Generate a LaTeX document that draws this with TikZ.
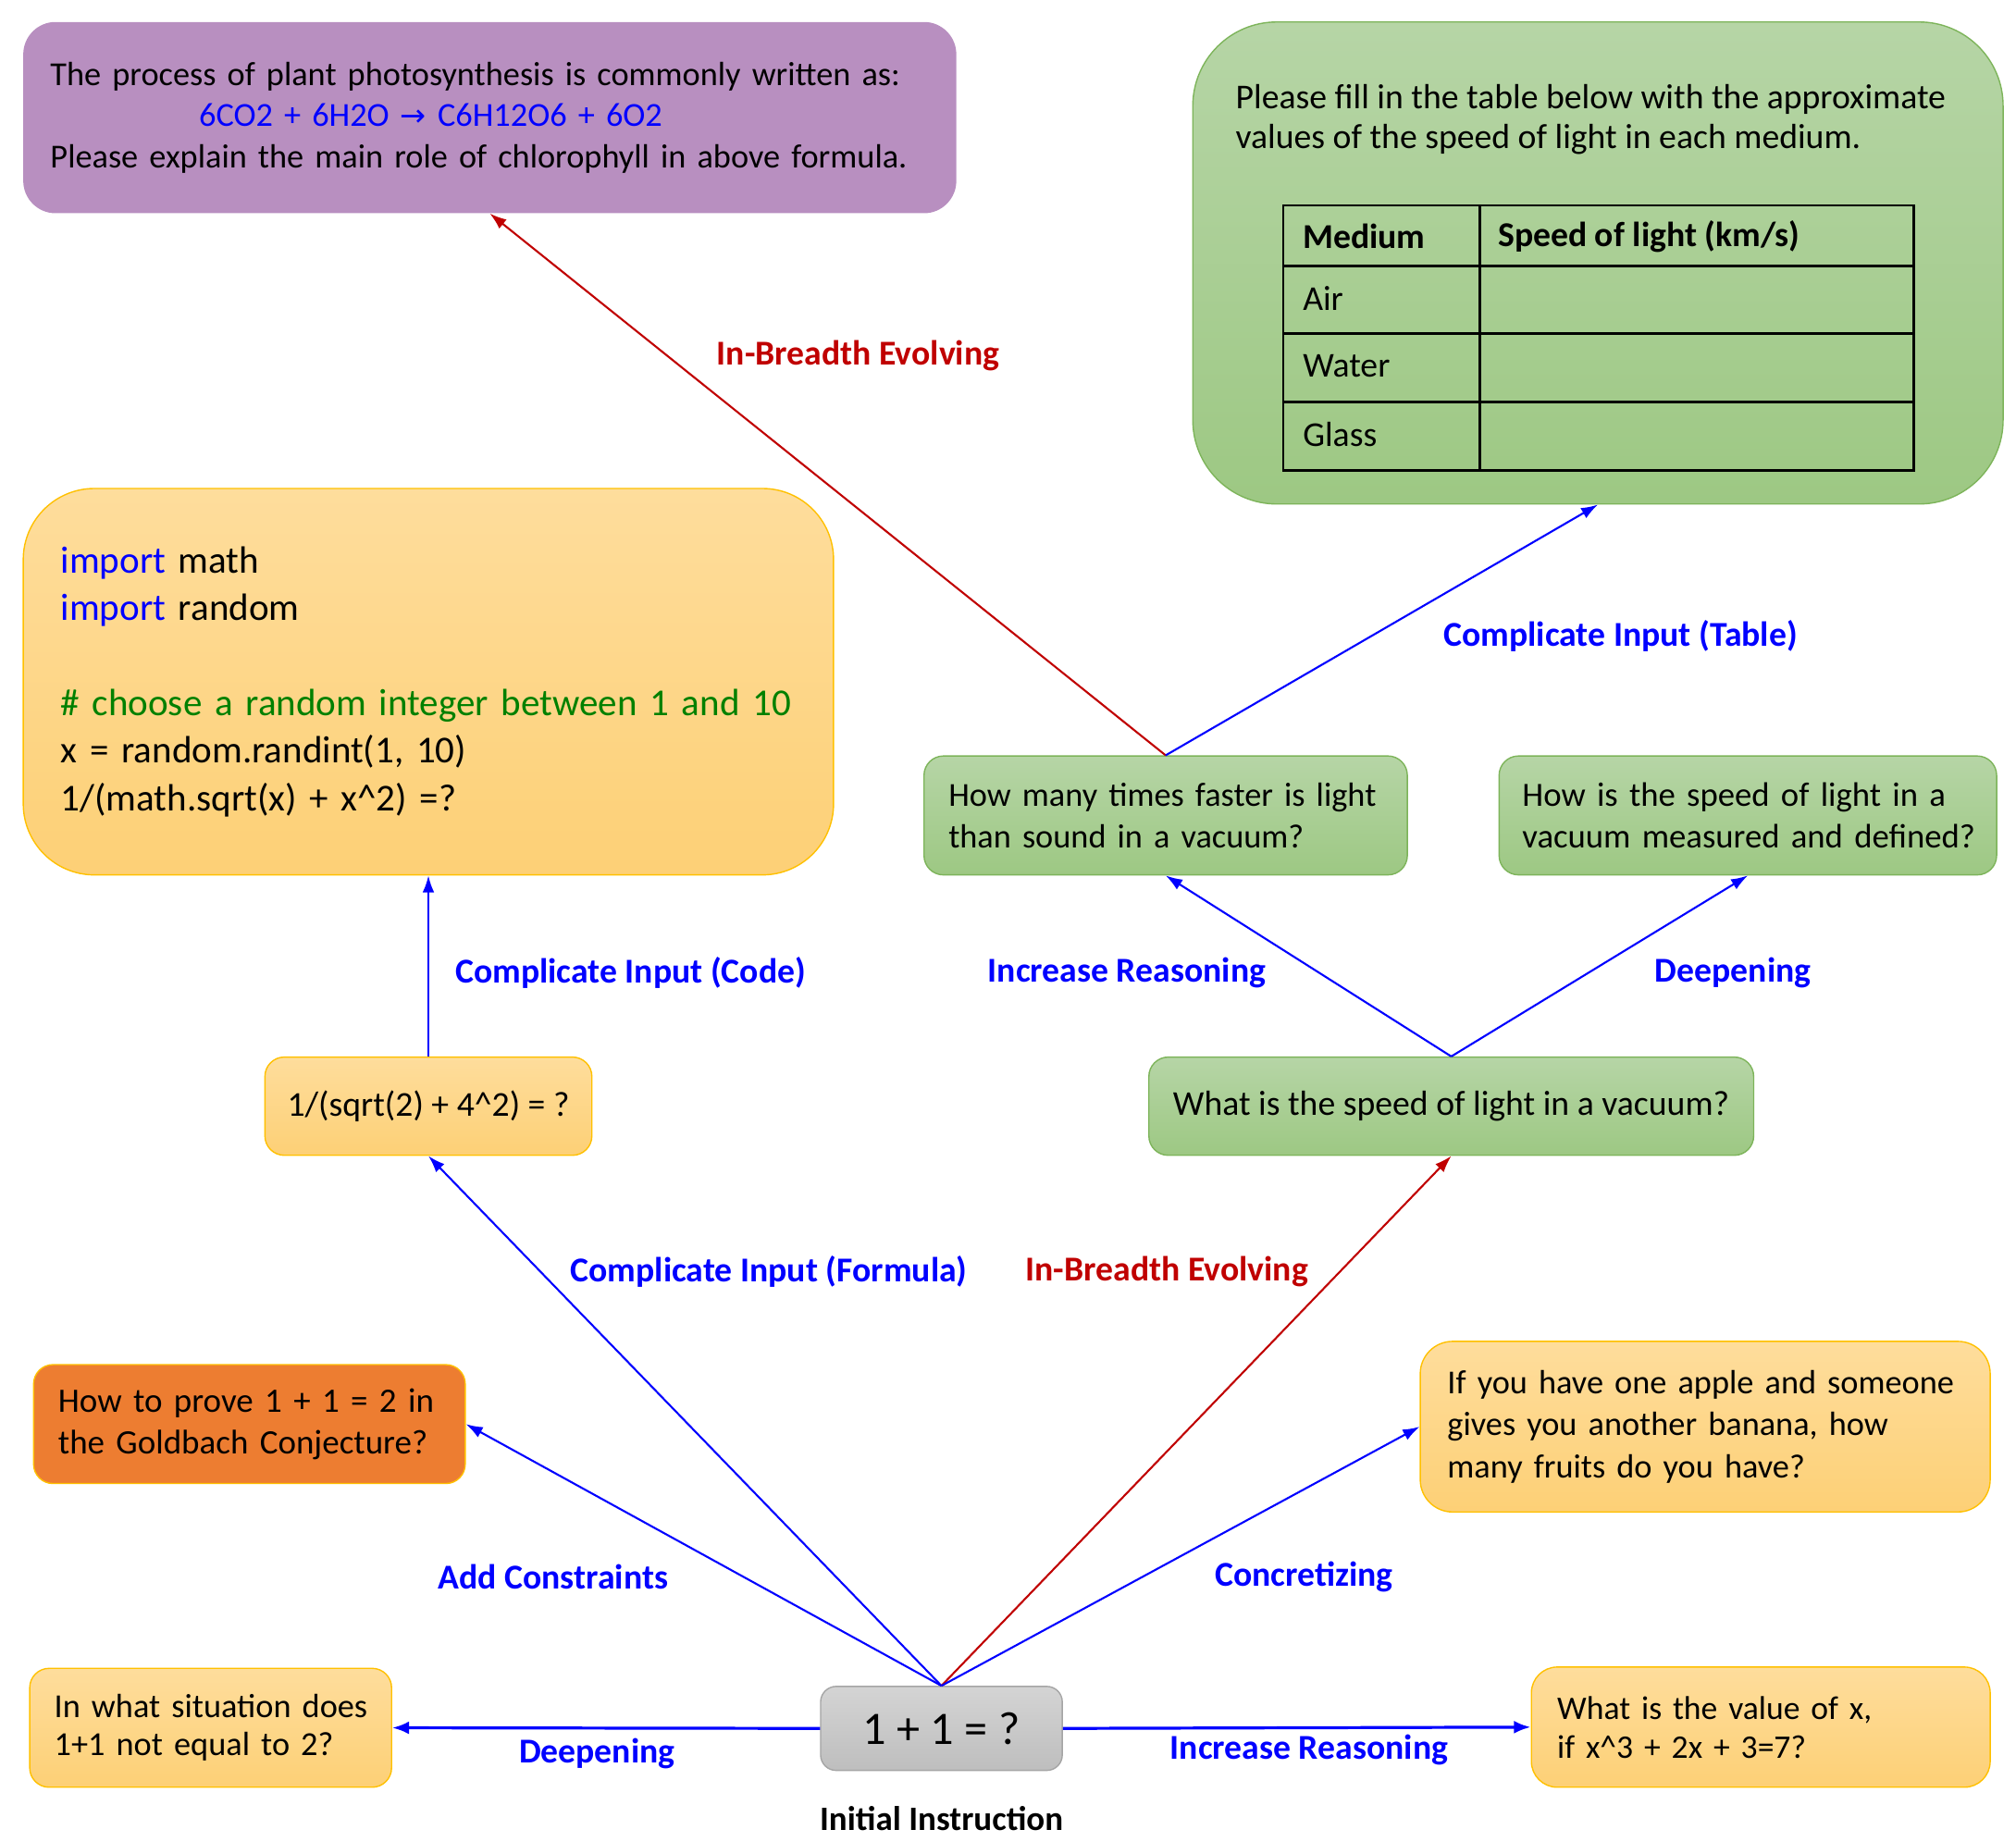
\documentclass[tikz,border=0pt]{standalone}
\usepackage{fontspec}
\setmainfont{Carlito}
\newfontfamily\djv{DejaVu Sans}
\usetikzlibrary{arrows.meta}
\definecolor{orT}{RGB}{254,221,156}
\definecolor{orB}{RGB}{253,208,118}
\definecolor{gold}{RGB}{255,192,0}
\definecolor{grT}{RGB}{182,213,166}
\definecolor{grB}{RGB}{157,200,131}
\definecolor{grD}{RGB}{125,180,90}
\definecolor{purp}{RGB}{184,143,192}
\definecolor{dorange}{RGB}{237,125,49}
\definecolor{gyT}{RGB}{212,212,212}
\definecolor{gyB}{RGB}{190,190,190}
\definecolor{gyD}{RGB}{165,165,165}
\definecolor{redA}{RGB}{192,0,0}
\definecolor{cgreen}{RGB}{0,128,0}
\begin{document}
\begin{tikzpicture}[x=1pt,y=-1pt,
  every node/.style={inner sep=0pt},
  body/.style={font=\fontsize{27}{32}\selectfont},
  obox/.style={draw=gold, line width=1pt, top color=orT, bottom color=orB, body, align=left},
  gbox/.style={draw=grD, line width=1pt, top color=grT, bottom color=grB, body, align=left},
  lbl/.style={font=\bfseries\fontsize{27}{30}\selectfont, text=blue},
  lblr/.style={font=\bfseries\fontsize{27}{30}\selectfont, text=redA},
  arr/.style={draw=blue, line width=1.5pt, -{Latex[length=13pt,width=9pt]}},
  arrR/.style={draw=redA, line width=1.5pt, -{Latex[length=13pt,width=9pt]}},
  arrT/.style={draw=blue, line width=2.3pt, -{Latex[length=13pt,width=10pt]}},
]
\useasboundingbox (0,0) rectangle (1560,1425);

% purple box
\node[fill=purp, rounded corners=25pt, minimum width=722pt, minimum height=148pt,
  text width=680pt, inner xsep=21pt, align=left, font=\fontsize{26}{32}\selectfont] (P) at (379,91)
  {\mbox{The process of plant photosynthesis is commonly written as:}\\
   \hspace*{115pt}{\color{blue}6CO2 + 6H2O {\djv\fontsize{24}{32}\selectfont →} C6H12O6 + 6O2}\\
   \mbox{Please explain the main role of chlorophyll in above formula.}};

% table box
\node[gbox, rounded corners=65pt, minimum width=627pt, minimum height=373pt] (T) at (1236.5,203.5) {};
\node[align=left, anchor=west, font=\fontsize{27}{31}\selectfont] (Ttxt) at (956,92.5)
  {Please fill in the table below with the approximate\\values of the speed of light in each medium.};
\draw[line width=2pt] (993,159) rectangle (1481,364);
\draw[line width=2pt] (993,206) -- (1481,206) (993,258) -- (1481,258) (993,311) -- (1481,311) (1145,159) -- (1145,364);
\node[anchor=west, font=\bfseries\fontsize{27}{32}\selectfont] (t1) at (1008,183) {Medium};
\node[anchor=west, font=\bfseries\fontsize{27}{32}\selectfont] (t2) at (1159,183) {Speed of light (km/s)};
\node[body, anchor=west] (t3) at (1008,231) {Air};
\node[body, anchor=west] (t4) at (1008,283) {Water};
\node[body, anchor=west] (t5) at (1008,336) {Glass};

% code box
\node[obox, rounded corners=55pt, minimum width=627pt, minimum height=299pt,
  text width=569pt, inner xsep=29pt, font=\fontsize{29.4}{36.8}\selectfont] (C) at (331.5,527.5)
  {{\color{blue}import} math\\
   {\color{blue}import} random\\
   \mbox{}\\
   {\color{cgreen}\mbox{\# choose a random integer between 1 and 10}}\\
   x = random.randint(1, 10)\\
   1/(math.sqrt(x) + x\textasciicircum2) =?};

% green question nodes
\node[gbox, rounded corners=15pt, minimum width=374pt, minimum height=92pt,
  text width=336pt, inner xsep=19pt, font=\fontsize{26}{32}\selectfont] (H1) at (902,631)
  {\mbox{How many times faster is light}\\\mbox{than sound in a vacuum?}};
\node[gbox, rounded corners=15pt, minimum width=385pt, minimum height=92pt,
  text width=349pt, inner xsep=18pt, font=\fontsize{26.3}{32}\selectfont] (H2) at (1352.5,631)
  {\mbox{How is the speed of light in a}\\\mbox{vacuum measured and defined?}};
\node[gbox, rounded corners=15pt, minimum width=468pt, minimum height=76pt, align=center] (Q) at (1123,856)
  {What is the speed of light in a vacuum?};

% orange nodes
\node[obox, rounded corners=15pt, minimum width=253pt, minimum height=76pt, align=center] (F) at (331.5,856)
  {1/(sqrt(2) + 4\textasciicircum2) = ?};
\node[draw=gold, line width=1pt, fill=dorange, rounded corners=15pt, align=left,
  minimum width=334pt, minimum height=92pt, text width=296pt, inner xsep=19pt,
  font=\fontsize{26.5}{32}\selectfont] (G) at (193,1102)
  {\mbox{How to prove 1 + 1 = 2 in}\\\mbox{the Goldbach Conjecture?}};
\node[obox, rounded corners=25pt, minimum width=441pt, minimum height=132pt,
  text width=399pt, inner xsep=21pt, font=\fontsize{26}{32.5}\selectfont] (A) at (1319.5,1104)
  {\mbox{If you have one apple and someone}\\\mbox{gives you another banana, how}\\\mbox{many fruits do you have?}};
\node[obox, rounded corners=15pt, minimum width=280pt, minimum height=92pt,
  text width=242pt, inner xsep=19pt, font=\fontsize{26}{29.5}\selectfont] (S) at (163,1337)
  {\mbox{In what situation does}\\\mbox{1+1 not equal to 2?}};
\node[obox, rounded corners=20pt, minimum width=355pt, minimum height=93pt,
  text width=315pt, inner xsep=20pt, font=\fontsize{25.5}{30}\selectfont] (V) at (1362.5,1336.5)
  {\mbox{What is the value of x,}\\\mbox{if x\textasciicircum3 + 2x + 3=7?}};

% initial instruction
\node[draw=gyD, line width=1pt, top color=gyT, bottom color=gyB, rounded corners=12pt,
  minimum width=187pt, minimum height=65pt, font=\fontsize{36}{40}\selectfont] (I) at (728.5,1337.5) {1 + 1 = ?};
\node[font=\bfseries\fontsize{26.5}{30}\selectfont] (Icap) at (728.5,1407) {Initial Instruction};

% connectors
\draw[arr] (I.north) -- (G.east);
\draw[arr] (I.north) -- (F.south);
\draw[arrR] (I.north) -- (Q.south);
\draw[arr] (I.north) -- (A.west);
\draw[arrT] (I.west) -- (S.east);
\draw[arrT] (I.east) -- (V.west);
\draw[arr] (F.north) -- (C.south);
\draw[arr] (Q.north) -- (H1.south);
\draw[arr] (Q.north) -- (H2.south);
\draw[arrR] (H1.north) -- (P.south);
\draw[arr] (H1.north) -- (T.south);

% labels
\node[lblr] (l1) at (664,275) {In-Breadth Evolving};
\node[lbl] (l2) at (1254,492) {Complicate Input (Table)};
\node[lbl] (l3) at (488,753) {Complicate Input (Code)};
\node[lbl] (l4) at (872,753) {Increase Reasoning};
\node[lbl] (l5) at (1341,753) {Deepening};
\node[lbl] (l6) at (595,984) {Complicate Input (Formula)};
\node[lblr] (l7) at (903,984) {In-Breadth Evolving};
\node[lbl] (l8) at (428,1220) {Add Constraints};
\node[lbl] (l9) at (1009,1220) {Concretizing};
\node[lbl] (l10) at (462,1357) {Deepening};
\node[lbl] (l11) at (1013,1354) {Increase Reasoning};
\end{tikzpicture}
\end{document}
